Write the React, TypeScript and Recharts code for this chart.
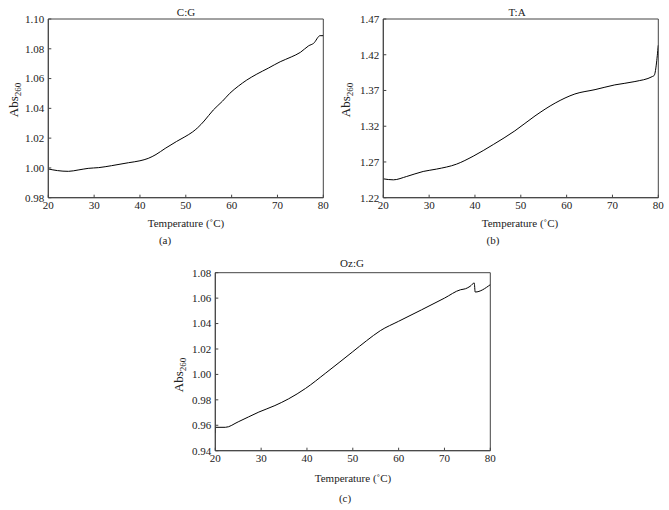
import React from "react";
import { LineChart, Line, XAxis, YAxis, ReferenceArea } from "recharts";

// Panel (a) C:G
const cgTemp = [20, 22, 24.4, 26.5, 28.7, 31, 33.8, 37.5, 40, 41.8, 43.5, 45.5, 48, 49.8, 51.5, 52.6, 54, 56, 58, 59.6, 61.5, 63.3, 65.5, 68, 70.6, 73, 75, 76.8, 77.9, 79.3, 80];
const cgAbs = [0.9993, 0.9982, 0.9977, 0.9986, 0.9997, 1.0002, 1.0015, 1.0035, 1.0048, 1.0064, 1.009, 1.0131, 1.0178, 1.0209, 1.0242, 1.027, 1.0315, 1.0389, 1.0448, 1.0501, 1.055, 1.059, 1.063, 1.067, 1.0713, 1.0745, 1.0776, 1.082, 1.0837, 1.0888, 1.0888];

// Panel (b) T:A
const taTemp = [20, 22.2, 25.1, 28.7, 31.6, 36, 39.6, 44, 48.7, 53.1, 57.5, 61.8, 66.2, 70.5, 74.9, 78.7, 79.1, 80];
const taAbs = [1.2464, 1.245, 1.2497, 1.2567, 1.26, 1.267, 1.278, 1.2944, 1.3135, 1.3344, 1.3524, 1.3651, 1.3712, 1.3778, 1.3825, 1.3895, 1.391, 1.4333];

// Panel (c) Oz:G
const ozTemp = [20, 20.05, 22.2, 25, 29.5, 33, 36, 39.7, 44.1, 49.9, 53, 56, 60, 65, 70, 73.5, 74.6, 75.6, 76.5, 76.7, 80];
const ozAbs = [0.9539, 0.9584, 0.9584, 0.9627, 0.9704, 0.9755, 0.9808, 0.989, 1.0011, 1.0176, 1.0265, 1.0344, 1.0418, 1.0508, 1.06, 1.0666, 1.0674, 1.0693, 1.0719, 1.0648, 1.0706];

const xTicks = [20, 30, 40, 50, 60, 70, 80];
const cgTicks = [0.98, 1.0, 1.02, 1.04, 1.06, 1.08, 1.1];
const taTicks = [1.22, 1.27, 1.32, 1.37, 1.42, 1.47];
const ozTicks = [0.94, 0.96, 0.98, 1.0, 1.02, 1.04, 1.06, 1.08];

const FONT = "'Liberation Serif', 'DejaVu Serif', serif";
const AXIS = "#444";
const TEXT = "#222";

const zip = (xs: number[], ys: number[]) => xs.map((t, i) => ({ t, v: ys[i] }));

type PanelProps = {
  left: number;
  top: number;
  topMargin: number;
  data: { t: number; v: number }[];
  yTicks: number[];
};

function Panel({ left, top, topMargin, data, yTicks }: PanelProps) {
  const yMin = yTicks[0];
  const yMax = yTicks[yTicks.length - 1];
  const tickStyle = { fontFamily: FONT, fontSize: 11, fill: TEXT };
  return (
    <div style={{ position: "absolute", left, top }}>
      <LineChart
        width={340}
        height={230}
        data={data}
        margin={{ top: topMargin, right: 16.7, left: 0, bottom: 12.3 }}
      >
        <XAxis
          dataKey="t"
          type="number"
          domain={[20, 80]}
          ticks={xTicks}
          allowDataOverflow
          height={20}
          tickSize={-3}
          tickMargin={6}
          stroke={AXIS}
          tick={tickStyle}
          interval={0}
        />
        <YAxis
          type="number"
          domain={[yMin, yMax]}
          ticks={yTicks}
          allowDataOverflow
          width={48.3}
          tickSize={-3}
          tickMargin={7}
          stroke={AXIS}
          tick={tickStyle}
          interval={0}
          tickFormatter={(v: number) => v.toFixed(2)}
        />
        <ReferenceArea
          x1={20}
          x2={80}
          y1={yMin}
          y2={yMax}
          fill="none"
          fillOpacity={0}
          stroke={AXIS}
          strokeWidth={1}
          ifOverflow="visible"
        />
        <Line
          type="monotone"
          dataKey="v"
          stroke="#000"
          strokeWidth={1}
          dot={false}
          isAnimationActive={false}
        />
      </LineChart>
    </div>
  );
}

function Txt({ x, y, children, size = 11, rotate = false }: { x: number; y: number; children: React.ReactNode; size?: number; rotate?: boolean }) {
  return (
    <div
      style={{
        position: "absolute",
        left: x,
        top: y,
        transform: `translate(-50%, -50%)${rotate ? " rotate(-90deg)" : ""}`,
        fontFamily: FONT,
        fontSize: size,
        color: TEXT,
        whiteSpace: "nowrap",
        lineHeight: 1,
      }}
    >
      {children}
    </div>
  );
}

const AbsLabel = () => (
  <span>
    Abs<sub style={{ fontSize: 9, verticalAlign: "-3px" }}>260</sub>
  </span>
);

export default function App() {
  return (
    <div
      style={{
        position: "absolute",
        left: 0,
        top: 0,
        width: 669,
        height: 510,
        background: "#fff",
        overflow: "hidden",
      }}
    >
      <Panel left={0} top={0} topMargin={19} data={zip(cgTemp, cgAbs)} yTicks={cgTicks} />
      <Panel left={335} top={0} topMargin={19} data={zip(taTemp, taAbs)} yTicks={taTicks} />
      <Panel left={167} top={253} topMargin={19.7} data={zip(ozTemp, ozAbs)} yTicks={ozTicks} />

      <Txt x={186} y={12}>C:G</Txt>
      <Txt x={517} y={12}>T:A</Txt>
      <Txt x={352} y={263}>Oz:G</Txt>

      <Txt x={186} y={223}>Temperature (˚C)</Txt>
      <Txt x={520} y={223}>Temperature (˚C)</Txt>
      <Txt x={353} y={478}>Temperature (˚C)</Txt>

      <Txt x={15} y={100} size={13} rotate><AbsLabel /></Txt>
      <Txt x={347} y={100} size={13} rotate><AbsLabel /></Txt>
      <Txt x={180} y={375} size={13} rotate><AbsLabel /></Txt>

      <Txt x={165} y={240}>(a)</Txt>
      <Txt x={493} y={240}>(b)</Txt>
      <Txt x={345} y={498}>(c)</Txt>
    </div>
  );
}
